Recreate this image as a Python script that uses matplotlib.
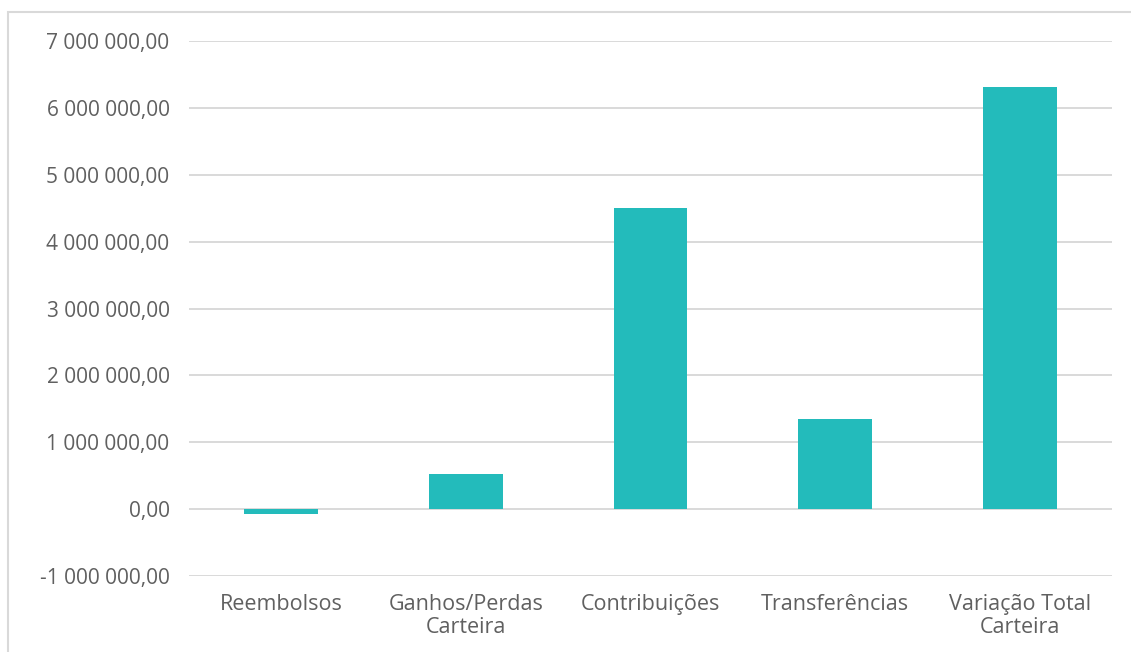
import matplotlib
matplotlib.use("Agg")
import matplotlib.pyplot as plt
from matplotlib.ticker import FuncFormatter, MultipleLocator
from matplotlib.patches import Rectangle

categories = ["Reembolsos", "Ganhos/Perdas\nCarteira", "Contribuições", "Transferências", "Variação Total\nCarteira"]
values = [-75000, 530000, 4500000, 1345000, 6310000]

plt.rcParams['font.family'] = ['Open Sans', 'DejaVu Sans']

fig = plt.figure(figsize=(11.31, 6.52), dpi=100)
ax = fig.add_axes([189/1131, 1-576/652, (1112-189)/1131, (576-41)/652])

x = range(len(categories))
ax.bar(x, values, width=0.4, color="#23BBBB", zorder=3)

ax.set_xlim(-0.5, len(categories)-0.5)
ax.set_ylim(-1000000, 7000000)
ax.yaxis.set_major_locator(MultipleLocator(1000000))

def fmt(v, pos):
    s = f"{abs(v):,.2f}".replace(",", " ").replace(".", ",")
    return ("-" if v < 0 else "") + s
ax.yaxis.set_major_formatter(FuncFormatter(fmt))

ax.grid(axis='y', color="#d9d9d9", linewidth=1.4, zorder=0)
for s in ax.spines.values():
    s.set_visible(False)
ax.tick_params(axis='both', length=0, colors="#606060")
ax.tick_params(axis='y', pad=14, labelsize=15)
ax.tick_params(axis='x', pad=13, labelsize=15.5)
ax.set_xticks(list(x))
ax.set_xticklabels(categories, linespacing=1.15)

fig.patches.append(Rectangle((8/1131, -0.1), 1.2, 1-12/652+0.1, transform=fig.transFigure,
                             fill=False, edgecolor="#d9d9d9", linewidth=1.5))

fig.savefig("out.png", dpi=100)
